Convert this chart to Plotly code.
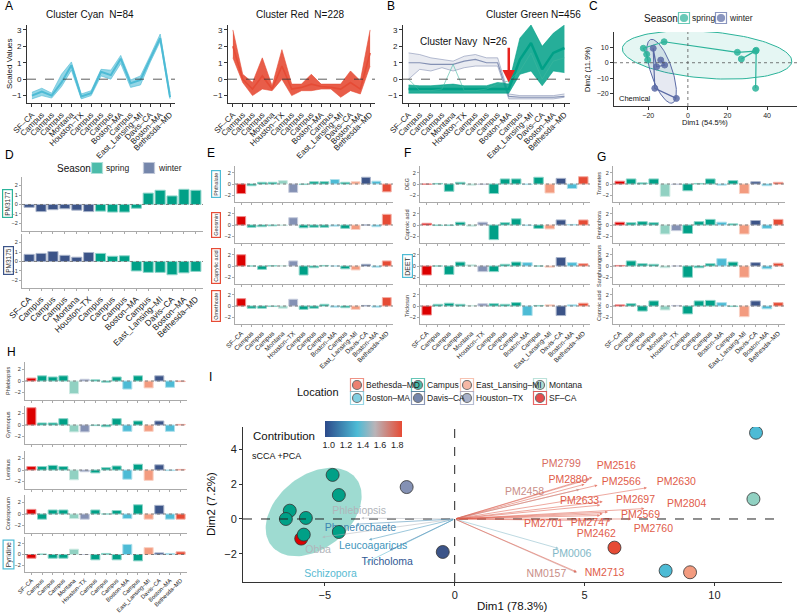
import numpy as np
import plotly.graph_objects as go
from plotly.colors import sample_colorscale

W, H = 800, 614
FONT = 'Liberation Sans, Arial, sans-serif'

# ---------------- data ----------------
sample_loc = ['SF-CA', 'Campus', 'Campus', 'Campus', 'Montana', 'Houston-TX', 'Campus', 'Campus',
              'Campus', 'Boston-MA', 'Campus', 'East_Lansing-MI', 'Davis-CA', 'Boston-MA', 'Bethesda-MD']
sample_labels = [s.replace('-', '–') for s in sample_loc]
sample_season = ['winter'] * 6 + ['spring'] * 9

loc_colors = {'SF-CA': '#DC0000', 'Campus': '#00A087', 'Montana': '#91D1C2', 'Houston-TX': '#8491B4',
              'Boston-MA': '#4DBBD5', 'East_Lansing-MI': '#F39B7F', 'Davis-CA': '#3C5488',
              'Bethesda-MD': '#E64B35'}
season_colors = {'spring': '#00A087', 'winter': '#3C5488'}
pca_season_colors = {'spring': '#2BB39A', 'winter': '#5A6AA5'}
legend_rows = [['Bethesda-MD', 'Campus', 'East_Lansing-MI', 'Montana'],
               ['Boston-MA', 'Davis-CA', 'Houston-TX', 'SF-CA']]

# A / B cluster profiles (upper, lower, centre)
cyan_up = [-0.8, -0.55, -0.85, 0.3, 1.05, -0.9, -0.7, 0.6, 0.55, 1.45, -0.05, 0.2, 1.45, 2.75, -0.85]
cyan_lo = [-1.2, -1.0, -1.15, -0.45, 0.55, -1.2, -1.0, 0.2, 0.0, 0.95, -0.5, -0.35, 1.05, 2.3, -1.2]
cyan_mid = [-1.0, -0.75, -1.0, -0.2, 0.85, -1.05, -0.85, 0.45, 0.25, 1.25, -0.25, -0.05, 1.25, 2.5, -1.1]

red_up = [3.0, 0.3, -0.2, 1.3, -0.4, 1.8, -0.3, -0.3, 0.3, -0.3, -0.3, -0.3, 0.5, -0.1, 3.0]
red_lo = [1.3, -0.2, -1.0, -0.6, -0.7, 0.0, -1.0, -0.7, -0.7, -0.6, -0.6, -1.1, -0.7, -0.9, 0.8]
red_mid = [2.0, 0.0, -0.6, 0.2, -0.6, 0.8, -0.6, -0.5, -0.3, -0.45, -0.5, -0.6, -0.2, -0.6, 1.6]

navy_up = [1.6, 1.5, 1.3, 1.2, 1.1, 1.4, 1.5, 1.3, 1.3, -0.9, -1.0, -1.0, -1.0, -1.0, -0.9]
navy_lo = [0.0, 0.6, 0.5, 0.7, 0.5, 0.7, 0.8, 0.8, 0.8, -1.2, -1.2, -1.2, -1.2, -1.2, -1.1]
navy_mid = [1.0, 1.0, 0.9, 0.9, 0.9, 1.1, 1.2, 1.0, 1.0, -1.05, -1.1, -1.1, -1.1, -1.1, -1.05]

green_up = [-0.35, -0.4, -0.4, -0.35, -0.3, -0.4, -0.4, -0.4, -0.2, -0.3, 2.5, 3.3, 2.0, 2.8, 3.3]
green_lo = [-0.85, -0.85, -0.85, -0.85, -0.85, -0.85, -0.85, -0.85, -0.85, -0.85, 0.3, 0.5, -0.4, 0.5, 0.4]
green_mid = [-0.6, -0.6, -0.6, -0.6, -0.6, -0.6, -0.6, -0.6, -0.6, -0.6, 1.2, 2.2, 0.6, 1.6, 1.9]
green_odd = [0.0, -0.7, -0.7, -0.6, 0.9, -0.7, -0.7, -0.6, -0.3, -0.1, 0.5, 1.6, 0.0, 1.1, 1.3]

# C: chemical PCA
spring_x = [-20.3, -20.8, -22.5, -12.0, 25.0, 34.2, 27.0, 34.5, 34.2]
spring_y = [1.7, 5.4, 9.3, 13.5, 6.7, 7.5, 2.4, 8.0, -16.5]
winter_x = [-13.7, -11.7, -15.8, -17.5, -16.7, -5.8]
winter_y = [1.7, -1.5, -2.6, 9.3, -16.5, -23.0]
# ellipse: centre x, centre y, semi-major, semi-minor, angle (deg)
spring_ell = [9.7, 5.0, 43.0, 15.0, -6.0]
winter_ell = [-13.3, -5.5, 21.2, 5.5, -75.6]

# D
pm3177 = [-0.3, -0.75, -0.55, -0.45, -0.6, -0.75, -0.7, -0.8, -0.8, -0.4, 1.2, 1.5, 0.9, 1.6, 1.5]
pm3175 = [0.75, 0.85, 1.05, 0.65, 0.45, 0.95, 0.85, 0.55, 0.6, -1.0, -1.15, -1.15, -1.4, -1.2, -1.05]

# E
phthalate = [-1.7, -0.3, 0.3, 0.3, 0.6, -1.5, -0.1, 0.4, 0.4, 0.8, 0.3, 0.4, 1.2, 0.5, -1.4]
geosmin = [1.5, -0.4, -0.3, -0.15, -0.1, 1.3, -0.5, -0.4, -0.4, -0.2, -0.6, -0.8, 0.0, -0.3, 1.9]
caprylic = [2.0, 0.0, -0.6, 0.05, 0.05, 0.9, -1.6, -0.3, 0.1, 0.0, -0.5, -0.7, 0.3, -0.2, 0.9]
omethoate = [1.3, -0.4, -0.4, -0.1, -0.4, 1.2, -0.6, -0.4, 0.3, -0.2, -0.3, -0.6, 0.1, -0.2, 1.5]

# F
deg = [-0.05, 0.1, -1.3, 0.3, -0.2, -0.1, -1.7, 0.9, 0.9, -0.1, 1.2, -1.6, 1.0, -0.8, 1.3]
caproic_f = [0.3, -0.1, -0.1, 0.5, -0.2, 0.5, -2.6, 0.4, 1.1, -0.1, -0.6, -0.7, 0.9, 0.1, 0.9]
deet = [-1.6, 0.0, -1.5, 0.7, 0.2, -1.0, -1.0, 0.3, 0.7, 0.6, 0.0, -0.2, 1.5, 0.6, 0.4]
triclosan = [-1.6, 0.3, 0.5, 0.3, 0.1, 0.4, 0.4, 0.3, 0.6, -1.7, 0.1, 0.2, -1.7, 0.2, 0.5]

# G
trametes = [0.5, 0.9, 0.2, 0.9, -2.2, -0.1, -1.2, 0.1, 0.9, -0.2, 0.6, -1.7, 0.4, -0.3, 0.3]
peniophora = [0.5, 0.4, 0.6, 0.4, -1.6, -1.0, -1.5, 0.6, 1.0, 0.5, 0.2, -1.6, 0.8, -0.6, 1.0]
sanghuang = [0.1, 0.9, 0.4, 0.3, -0.3, 0.0, -2.0, -0.3, 0.4, 1.3, 0.7, -2.0, 0.6, -0.5, 0.5]
caproic_g = [0.2, 0.4, -0.9, 0.9, -0.7, 0.1, -1.4, 0.9, 1.0, 0.6, -0.1, -1.9, 0.9, -0.5, 0.6]

# H
phlebiopsis = [0.5, 0.9, 0.7, 0.9, -2.2, 0.3, 0.2, -0.2, 0.7, -1.4, 0.9, -1.2, 0.9, -1.1, -0.1]
gymnopus = [3.0, 0.35, 0.35, 1.1, -1.2, -1.2, -0.1, -0.3, 1.1, -1.1, 0.7, -1.1, 0.7, -1.1, 0.1]
lentinus = [0.6, 0.6, 0.8, 0.6, -1.7, -0.3, -0.5, 0.4, 0.7, -1.6, 1.0, -1.8, 0.9, -0.1, 0.1]
coniosporum = [0.8, -0.9, 0.7, 0.7, -0.8, -0.9, 0.7, 0.0, 0.6, -0.8, 1.6, -0.9, 1.5, -0.9, -0.9]
pyridine = [-0.7, 0.1, -0.7, -0.7, 1.0, 0.0, -1.0, 0.2, -1.0, 1.9, -1.2, 1.3, 0.3, 0.2, 0.5]

# I: sCCA + PCA biplot
pts_loc = ['SF-CA', 'Campus', 'Campus', 'Campus', 'Campus', 'Campus', 'Campus', 'Campus', 'Houston-TX',
           'Davis-CA', 'Boston-MA', 'Montana', 'Bethesda-MD', 'Boston-MA', 'East_Lansing-MI']
pts_x = [-5.91, -4.70, -4.46, -6.35, -6.5, -5.73, -5.81, -4.46, -1.85, -0.46, 11.6, 11.5, 6.15, 8.12, 9.06]
pts_y = [-1.13, 2.54, 1.38, 0.48, 0.0, 0.06, -0.9, -0.75, 1.84, -1.9, 4.97, 1.15, -1.65, -2.98, -3.07]

var_names = ['Phlebiopsis', 'Phanerochaete', 'Obba', 'Leucoagaricus', 'Tricholoma', 'Schizopora',
             'PM2799', 'PM2516', 'PM2880', 'PM2566', 'PM2630', 'PM2458', 'PM2633', 'PM2697', 'PM2804',
             'PM2569', 'PM2701', 'PM2747', 'PM2760', 'PM2462', 'PM0006', 'NM0157', 'NM2713']
var_tip_x = [-3.6, -3.8, -5.1, -3.3, -2.5, -3.4, 5.2, 5.3, 5.0, 5.5, 7.4, 4.8, 5.6, 5.7, 7.3,
             5.9, 5.6, 5.7, 6.8, 6.0, 4.0, 4.7, 4.7]
var_tip_y = [0.05, -0.3, -1.05, -1.2, -1.8, -2.5, 2.3, 2.4, 2.0, 1.95, 1.8, 1.7, 0.8, 1.0, 0.6,
             0.4, 0.2, 0.3, 0.0, -0.1, -1.7, -3.1, -3.05]
var_lab_x = [-3.68, -3.63, -5.26, -3.14, -2.6, -4.78, 4.10, 6.22, 4.36, 6.41, 8.53, 2.69, 4.81, 6.96, 8.93,
             7.15, 3.42, 5.22, 7.65, 5.45, 4.51, 3.53, 5.77]
var_lab_y = [0.42, -0.54, -1.83, -1.56, -2.5, -3.17, 3.15, 3.02, 2.25, 2.11, 2.11, 1.52, 1.04, 1.1, 0.86,
             0.23, -0.29, -0.25, -0.58, -0.88, -2.04, -3.19, -3.13]
var_contrib = [1.52, 1.15, 1.52, 1.2, 1.0, 1.35, 1.75, 1.8, 1.8, 1.8, 1.8, 1.65, 1.8, 1.8, 1.8,
               1.8, 1.8, 1.8, 1.8, 1.8, 1.43, 1.65, 1.8]

contrib_scale = [[0, '#2C4A8A'], [0.42, '#4DBBD5'], [0.65, '#B9B4B8'], [1, '#E64B35']]
CMIN, CMAX = 0.95, 1.85

# ---------------- helpers ----------------
fig = go.Figure()
axes = {}
anns = []
shapes = []
n_ax = [0]
idx = list(range(15))


def new_axes(x0, x1, y0, y1, xkw, ykw):
    n_ax[0] += 1
    s = '' if n_ax[0] == 1 else str(n_ax[0])
    axes['xaxis' + s] = dict(domain=[x0 / W, x1 / W], anchor='y' + s, showgrid=False, zeroline=False,
                             automargin=False, **xkw)
    axes['yaxis' + s] = dict(domain=[1 - y1 / H, 1 - y0 / H], anchor='x' + s, showgrid=False, zeroline=False,
                             automargin=False, **ykw)
    return 'x' + s, 'y' + s


def text(t, x, y, size=10, color='#111', xanchor='center', **kw):
    anns.append(dict(text=t, x=x / W, y=1 - y / H, xref='paper', yref='paper', showarrow=False,
                     xanchor=xanchor, yanchor='middle',
                     font=dict(size=size, color=color, family=FONT), **kw))


def hline(xa, ya, dash='dot', color='#666', width=0.8):
    shapes.append(dict(type='line', xref=xa + ' domain', yref=ya, x0=0, x1=1, y0=0, y1=0,
                       line=dict(color=color, width=width, dash=dash), layer='above'))


def tint(h, f=0.55):
    r, g, b = int(h[1:3], 16), int(h[3:5], 16), int(h[5:7], 16)
    return 'rgb(%d,%d,%d)' % (r + (255 - r) * f, g + (255 - g) * f, b + (255 - b) * f)


def ellipse(p, n=120):
    cx, cy, a, b, ang = p
    t = np.linspace(0, 2 * np.pi, n)
    th = np.deg2rad(ang)
    ex = cx + a * np.cos(t) * np.cos(th) - b * np.sin(t) * np.sin(th)
    ey = cy + a * np.cos(t) * np.sin(th) + b * np.sin(t) * np.cos(th)
    return ex, ey


line_ax = dict(showline=True, linecolor='#333', linewidth=1, ticks='outside', ticklen=3, tickcolor='#333')


def profile_axes(x0, x1):
    xkw = dict(range=[-0.5, 14.5], tickvals=idx, ticktext=sample_labels, tickangle=-45,
               tickfont=dict(size=8, color='#222'), **line_ax)
    ykw = dict(range=[-1.45, 3.3], tickvals=[-1, 0, 1, 2, 3], ticktext=['−1', '0', '1', '2', '3'],
               tickfont=dict(size=8, color='#222'), **line_ax)
    return new_axes(x0, x1, 25, 103, xkw, ykw)


def band(xa, ya, up, lo, mid, color, fill, lw=1.6, op=0.6):
    fig.add_trace(go.Scatter(x=idx, y=lo, mode='lines', line=dict(color=color, width=0.6),
                             opacity=op, xaxis=xa, yaxis=ya, hoverinfo='skip'))
    fig.add_trace(go.Scatter(x=idx, y=up, mode='lines', line=dict(color=color, width=0.6), fill='tonexty',
                             fillcolor=fill, opacity=op, xaxis=xa, yaxis=ya, hoverinfo='skip'))
    fig.add_trace(go.Scatter(x=idx, y=mid, mode='lines', line=dict(color=color, width=lw),
                             xaxis=xa, yaxis=ya, hoverinfo='skip'))


# ---------------- A ----------------
xa, ya = profile_axes(27, 175)
band(xa, ya, cyan_up, cyan_lo, cyan_mid, '#4DBBD5', 'rgba(77,187,213,0.6)', lw=2)
hline(xa, ya, dash='dash', color='#333')
text('Cluster Cyan  N=84', 90, 14, size=10)
text('Scaled Values', 9, 64, size=8, textangle=-90)

xa, ya = profile_axes(228, 375)
band(xa, ya, red_up, red_lo, red_mid, '#E64B35', 'rgba(230,75,53,0.9)', op=0.85)
hline(xa, ya, dash='dash', color='#333')
text('Cluster Red  N=228', 300, 14, size=10)

# ---------------- B ----------------
xa, ya = profile_axes(403, 570)
band(xa, ya, navy_up, navy_lo, navy_mid, '#8491B4', 'rgba(132,145,180,0.18)', lw=1.2, op=0.5)
band(xa, ya, green_up, green_lo, green_mid, '#00A087', 'rgba(0,160,135,0.85)', lw=2.5)
fig.add_trace(go.Scatter(x=idx, y=green_odd, mode='lines', line=dict(color='#3FB9A0', width=0.8),
                         opacity=0.7, xaxis=xa, yaxis=ya, hoverinfo='skip'))
hline(xa, ya, dash='dash', color='#333')
text('Cluster Green N=456', 533, 14, size=10)
text('Cluster Navy  N=26', 463, 41, size=10)
anns.append(dict(x=9, y=-0.2, ax=9, ay=2.0, xref=xa, yref=ya, axref=xa, ayref=ya, text='',
                 showarrow=True, arrowhead=2, arrowsize=1.0, arrowwidth=2.5, arrowcolor='#E8231F'))

# ---------------- C ----------------
xkw = dict(range=[-37.3, 55.1], tickvals=[-20, 0, 20, 40], ticktext=['−20', '0', '20', '40'],
           tickfont=dict(size=7, color='#222'), **line_ax)
ykw = dict(range=[-27.9, 19.8], tickvals=[-20, -10, 0, 10], ticktext=['−20', '−10', '0', '10'],
           tickfont=dict(size=7, color='#222'), **line_ax)
xa, ya = new_axes(614, 797, 32, 106, xkw, ykw)
for p, s, fc in [(spring_ell, 'spring', 'rgba(43,179,154,0.12)'), (winter_ell, 'winter', 'rgba(90,106,165,0.15)')]:
    ex, ey = ellipse(p)
    fig.add_trace(go.Scatter(x=ex, y=ey, mode='lines', fill='toself', fillcolor=fc,
                             line=dict(color=pca_season_colors[s], width=1),
                             xaxis=xa, yaxis=ya, hoverinfo='skip'))
shapes.append(dict(type='line', xref=xa, yref=ya + ' domain', x0=0, x1=0, y0=0, y1=1,
                   line=dict(color='#555', width=0.8, dash='dot')))
hline(xa, ya, dash='dot', color='#555')
for nm, sx, sy in [('spring', spring_x, spring_y), ('winter', winter_x, winter_y)]:
    c = pca_season_colors[nm]
    fig.add_trace(go.Scatter(x=sx, y=sy, mode='lines', line=dict(color=c, width=1.2), xaxis=xa, yaxis=ya,
                             hoverinfo='skip'))
    fig.add_trace(go.Scatter(x=sx, y=sy, mode='markers', name=nm,
                             marker=dict(size=6, color=c, opacity=0.85, line=dict(color=c, width=1)),
                             xaxis=xa, yaxis=ya))
text('Dim1 (54.5%)', 705, 123, size=7.5)
text('Dim2 (11.9%)', 587, 69, size=7.5, textangle=-90)
text('Chemical', 617, 99, size=7.5, xanchor='left')

# ---------------- bar panels ----------------
bar_ax_style = dict(showline=True, linecolor='#aaa', linewidth=1, ticks='outside', ticklen=2, tickcolor='#aaa')


def bar_panel(vals, x0, x1, y0, y1, show_x, xfont=6.5, yfont=5.5, yr=3.2):
    xkw = dict(range=[-0.6, 14.6], tickvals=idx, ticktext=sample_labels, showticklabels=show_x, tickangle=-45,
               tickfont=dict(size=xfont, color='#222'), **bar_ax_style)
    ykw = dict(range=[-yr, yr], tickvals=[-2, 0, 2], ticktext=['−2', '0', '2'],
               tickfont=dict(size=yfont, color='#333'), **bar_ax_style)
    xa, ya = new_axes(x0, x1, y0, y1, xkw, ykw)
    cols = [loc_colors[l] for l in sample_loc]
    fig.add_trace(go.Bar(x=idx, y=vals, width=0.85, xaxis=xa, yaxis=ya,
                         marker=dict(color=cols, line=dict(color=[tint(c) for c in cols], width=1))))
    hline(xa, ya)
    return xa, ya


def ylab(t, x, y0, y1, box=None, size=6):
    kw = dict(textangle=-90)
    if box:
        kw.update(bordercolor=box, borderwidth=1.2, borderpad=1)
    text(t, x, (y0 + y1) / 2, size=size, color='#333', **kw)


# D (by season)
for vals, (y0, y1), lab, box, last in [(pm3177, (177, 231), 'PM3177', '#2BB39A', False),
                                       (pm3175, (234, 288), 'PM3175', '#3C5488', True)]:
    xkw = dict(range=[-0.6, 14.6], tickvals=idx, ticktext=sample_labels, showticklabels=last, tickangle=-45,
               tickfont=dict(size=8.5, color='#222'), **bar_ax_style)
    ykw = dict(range=[-2.8, 2.9], tickvals=[-2, -1, 0, 1, 2], ticktext=['−2', '−1', '0', '1', '2'],
               tickfont=dict(size=5.5, color='#333'), **bar_ax_style)
    xa, ya = new_axes(22, 203, y0, y1, xkw, ykw)
    for s in ['spring', 'winter']:
        xs = [i for i in idx if sample_season[i] == s]
        fig.add_trace(go.Bar(x=xs, y=[vals[i] for i in xs], width=0.85, name=s, xaxis=xa, yaxis=ya,
                             marker=dict(color=season_colors[s], line=dict(color=tint(season_colors[s]), width=1))))
    hline(xa, ya)
    ylab(lab, 8, y0, y1, box, size=6.5)

rows = [(166, 202), (207, 243), (248, 284), (288, 324)]
panels = [
    (235, 393, 216, [(phthalate, 'Phthalate', '#4DBBD5'), (geosmin, 'Geosmin', '#E64B35'),
                     (caprylic, 'Caprylic acid', '#E64B35'), (omethoate, 'Omethoate', '#E64B35')]),
    (420, 590, 407, [(deg, 'DEG', None), (caproic_f, 'Caproic acid', None),
                     (deet, 'DEET', '#4DBBD5'), (triclosan, 'Triclosan', None)]),
    (613, 785, 599, [(trametes, 'Trametes', None), (peniophora, 'Peniophora', None),
                     (sanghuang, 'Sanghuangporus', None), (caproic_g, 'Caproic acid', None)]),
]
for x0, x1, lx, items in panels:
    for k, (vals, lab, box) in enumerate(items):
        y0, y1 = rows[k]
        bar_panel(vals, x0, x1, y0, y1, show_x=(k == 3))
        ylab(lab, lx, y0, y1, box, size=5.5 if lab != 'DEET' else 7)

hrows = [(362, 400), (406, 444), (451, 489), (495, 533), (537, 572)]
for k, (vals, lab, box) in enumerate([(phlebiopsis, 'Phlebiopsis', None), (gymnopus, 'Gymnopus', None),
                                     (lentinus, 'Lentinus', None), (coniosporum, 'Coniosporum', None),
                                     (pyridine, 'Pyridine', '#4DBBD5')]):
    y0, y1 = hrows[k]
    bar_panel(vals, 25, 187, y0, y1, show_x=(k == 4), xfont=5.8, yr=3.3)
    ylab(lab, 8, y0, y1, box, size=5.5 if not box else 7)

# ---------------- I ----------------
xkw = dict(range=[-8.15, 12.6], tickvals=[-5, 0, 5, 10], ticktext=['−5', '0', '5', '10'],
           tickfont=dict(size=11, color='#222'), **line_ax)
ykw = dict(range=[-3.63, 5.3], tickvals=[-2, 0, 2, 4], ticktext=['−2', '0', '2', '4'],
           tickfont=dict(size=11, color='#222'), **line_ax)
xa, ya = new_axes(243, 782, 427, 582, xkw, ykw)

# campus concentration ellipse from the campus points
cx = np.array([x for x, l in zip(pts_x, pts_loc) if l == 'Campus'])
cy = np.array([y for y, l in zip(pts_y, pts_loc) if l == 'Campus'])
vals_e, vecs = np.linalg.eigh(np.cov(cx, cy))
t = np.linspace(0, 2 * np.pi, 120)
ell = vecs @ (np.stack([np.cos(t), np.sin(t)]) * (2.1 * np.sqrt(vals_e))[:, None])
fig.add_trace(go.Scatter(x=cx.mean() + ell[0], y=cy.mean() + ell[1], mode='lines', fill='toself',
                         fillcolor='rgba(0,160,135,0.38)', line=dict(width=0), xaxis=xa, yaxis=ya,
                         hoverinfo='skip'))

shapes.append(dict(type='line', xref=xa, yref=ya + ' domain', x0=0, x1=0, y0=0, y1=1,
                   line=dict(color='#222', width=1, dash='dash')))
hline(xa, ya, dash='dash', color='#222', width=1)

norm = [(c - CMIN) / (CMAX - CMIN) for c in var_contrib]
var_cols = sample_colorscale(contrib_scale, norm)
for tx, ty, c in zip(var_tip_x, var_tip_y, var_cols):
    anns.append(dict(x=tx, y=ty, ax=0, ay=0, xref=xa, yref=ya, axref=xa, ayref=ya, text='', showarrow=True,
                     arrowhead=2, arrowsize=0.8, arrowwidth=0.7, arrowcolor=c, opacity=0.75))

fig.add_trace(go.Scatter(
    x=var_lab_x, y=var_lab_y, mode='markers+text', text=var_names, textposition='middle center',
    textfont=dict(size=10.5, color=var_cols, family=FONT), xaxis=xa, yaxis=ya,
    marker=dict(size=1, opacity=0, color=var_contrib, colorscale=contrib_scale, cmin=CMIN, cmax=CMAX,
                showscale=True,
                colorbar=dict(orientation='h', x=363 / W, xanchor='center', y=1 - 434 / H, yanchor='middle',
                              len=77, lenmode='pixels', thickness=16, outlinewidth=0, xpad=0, ypad=0,
                              tickvals=[1.0, 1.2, 1.4, 1.6, 1.8], ticktext=['1.0', '1.2', '1.4', '1.6', '1.8'],
                              ticks='', tickfont=dict(size=9, color='#222', family=FONT)))))

# sample points, one trace per location (SF-CA first so it sits under Campus)
seen = []
for l in pts_loc:
    if l in seen:
        continue
    seen.append(l)
    sel = [i for i, v in enumerate(pts_loc) if v == l]
    fig.add_trace(go.Scatter(x=[pts_x[i] for i in sel], y=[pts_y[i] for i in sel], mode='markers', name=l,
                             marker=dict(size=13, color=loc_colors[l], line=dict(color='#333', width=0.8)),
                             xaxis=xa, yaxis=ya))


# ---------------- keys (each on a small hidden axis measured in page pixels) ----------------
def key_block(x0, x1, y0, y1, items):
    kxa, kya = new_axes(x0, x1, y0, y1, dict(range=[x0, x1], visible=False, fixedrange=True),
                        dict(range=[y1, y0], visible=False, fixedrange=True))
    fig.add_trace(go.Scatter(x=[i[0] for i in items], y=[i[1] for i in items], mode='markers',
                             xaxis=kxa, yaxis=kya, hoverinfo='skip', cliponaxis=False,
                             marker=dict(symbol=[i[3] for i in items], size=[i[4] for i in items],
                                         color=[i[2] for i in items],
                                         line=dict(color=[i[5] for i in items], width=1.2))))


# Location key: two rows of four
key_col_x = [357, 418, 467, 540]
key_row_y = [385, 398]
items = []
for r, row in enumerate(legend_rows):
    for c, l in enumerate(row):
        items.append((key_col_x[c], key_row_y[r], 'rgba(0,0,0,0)', 'square', 13, tint(loc_colors[l], 0.15)))
        items.append((key_col_x[c], key_row_y[r], loc_colors[l], 'circle', 9, '#333'))
        text(l.replace('-', '–'), key_col_x[c] + 7, key_row_y[r], size=8.5, color='#222', xanchor='left')
key_block(345, 555, 377, 406, items)
text('Location', 318, 392, size=11)

# Season key for D (bars)
text('Season', 55, 168, size=10, xanchor='left')
items = []
for s, kx in zip(['spring', 'winter'], [97, 149]):
    items.append((kx, 168, season_colors[s], 'square', 11, tint(season_colors[s])))
    text(s, kx + 7, 168, size=8.5, color='#222', xanchor='left')
key_block(88, 158, 160, 176, items)

# Season key for C (points)
text('Season', 642, 18, size=10, xanchor='left')
items = []
for s, kx in zip(['spring', 'winter'], [684, 721]):
    items.append((kx, 18, 'rgba(0,0,0,0)', 'square', 11, pca_season_colors[s]))
    items.append((kx, 18, pca_season_colors[s], 'circle', 7, pca_season_colors[s]))
    text(s, kx + 6, 18, size=8.5, color='#222', xanchor='left')
key_block(676, 730, 10, 26, items)

text('Contribution', 284, 436, size=11.5)
text('sCCA +PCA', 250, 456, size=9, xanchor='left')
text('Dim1 (78.3%)', 512, 606, size=11.5)
text('Dim2 (7.2%)', 211, 504, size=11.5, textangle=-90)

# panel letters
for L, x, y in [('A', 3, 6), ('B', 385, 6), ('C', 587, 6), ('D', 3, 155), ('E', 205, 153),
                ('F', 402, 153), ('G', 595, 157), ('H', 5, 352), ('I', 207, 377)]:
    text(L, x, y, size=12, color='#000', xanchor='left')

fig.update_layout(
    width=W, height=H, autosize=False, margin=dict(l=0, r=0, t=0, b=0, autoexpand=False), showlegend=False,
    paper_bgcolor='white', plot_bgcolor='rgba(0,0,0,0)', font=dict(family=FONT, color='#222'),
    bargap=0.15, annotations=anns, shapes=shapes, **axes,
)
fig.write_html('out.html', config={'displayModeBar': False},
               post_script="document.body.style.margin='0px';")
